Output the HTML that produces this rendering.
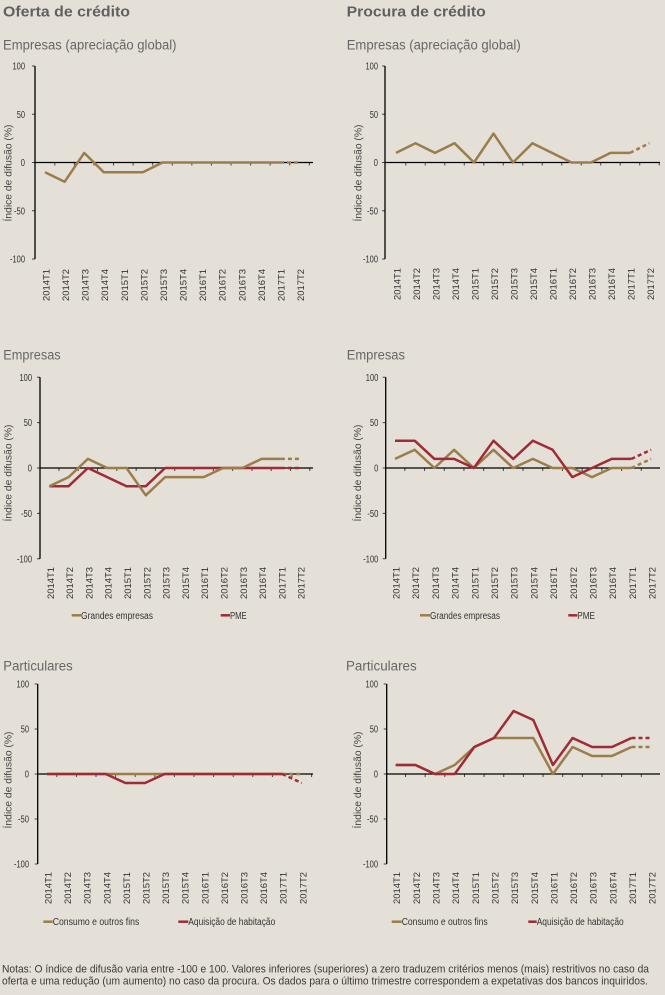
<!DOCTYPE html>
<html><head><meta charset="utf-8">
<style>
html,body{margin:0;padding:0;background:#e5e0d7;}
svg{display:block;}
text{font-family:"Liberation Sans",sans-serif;}
.tk{font-size:10px;fill:#333;}
.xl{font-size:9.5px;fill:#333;}
.yt{font-size:10px;fill:#444;}
.lg{font-size:10px;fill:#333;}
.h1{font-size:14.5px;font-weight:bold;fill:#606060;}
.h2{font-size:13.5px;fill:#666;}
.nt{font-size:11px;fill:#3a3a3a;}
.ax{stroke:#000;stroke-width:1.3;fill:none;}
.tm{stroke:#444;stroke-width:1;fill:none;}
.g{stroke:#9b7d4b;stroke-width:2.5;fill:none;stroke-linejoin:round;}
.r{stroke:#9e2b37;stroke-width:2.5;fill:none;stroke-linejoin:round;}
.d{stroke-dasharray:4 3;}
</style></head>
<body>
<svg width="665" height="995" viewBox="0 0 665 995" xmlns="http://www.w3.org/2000/svg">
<rect width="665" height="995" fill="#e5e0d7"/>

<!-- Titles -->
<text class="h1" x="3" y="16.5" textLength="127" lengthAdjust="spacingAndGlyphs">Oferta de crédito</text>
<text class="h1" x="346.7" y="16.5" textLength="139" lengthAdjust="spacingAndGlyphs">Procura de crédito</text>
<text class="h2" x="3" y="49.3" textLength="173.5" lengthAdjust="spacingAndGlyphs">Empresas (apreciação global)</text>
<text class="h2" x="346.7" y="49.3" textLength="174" lengthAdjust="spacingAndGlyphs">Empresas (apreciação global)</text>
<text class="h2" x="3.3" y="359.3" textLength="57.4" lengthAdjust="spacingAndGlyphs">Empresas</text>
<text class="h2" x="346.7" y="359.3" textLength="58.3" lengthAdjust="spacingAndGlyphs">Empresas</text>
<text class="h2" x="3.3" y="670.7" textLength="69.4" lengthAdjust="spacingAndGlyphs">Particulares</text>
<text class="h2" x="346" y="670.7" textLength="70.7" lengthAdjust="spacingAndGlyphs">Particulares</text>

<!-- ================= Chart 1 ================= -->
<g>
<text class="tk" x="25" y="69.5" text-anchor="end" textLength="12.5" lengthAdjust="spacingAndGlyphs">100</text>
<text class="tk" x="25" y="117.75" text-anchor="end" textLength="8.3" lengthAdjust="spacingAndGlyphs">50</text>
<text class="tk" x="25" y="166" text-anchor="end" textLength="4.2" lengthAdjust="spacingAndGlyphs">0</text>
<text class="tk" x="25" y="214.25" text-anchor="end" textLength="11" lengthAdjust="spacingAndGlyphs">-50</text>
<text class="tk" x="25" y="262.5" text-anchor="end" textLength="15" lengthAdjust="spacingAndGlyphs">-100</text>
<path class="tm" d="M32 66h3M32 114.25h3M32 162.5h3M32 210.75h3M32 259h3"/>
<line x1="54.3" y1="164" x2="313" y2="164" stroke="#444" stroke-width="3" stroke-dasharray="1 18.58"/>
<path class="ax" d="M35 66V259M35 162.5H313"/>
<text class="yt" transform="translate(11.6,173) rotate(-90)" text-anchor="middle" textLength="97" lengthAdjust="spacingAndGlyphs">Índice de difusão (%)</text>
<polyline class="g" points="45,172.2 64.6,181.8 84.2,152.9 103.7,172.2 123.3,172.2 142.9,172.2 162.5,162.5 182.1,162.5 201.6,162.5 221.2,162.5 240.8,162.5 260.4,162.5 280,162.5"/>
<polyline class="g d" points="280,162.5 299.5,162.5"/>
<g class="xl" text-anchor="end">
<text transform="translate(49.5,269) rotate(-90)" textLength="32" lengthAdjust="spacingAndGlyphs">2014T1</text>
<text transform="translate(69.1,269) rotate(-90)" textLength="32" lengthAdjust="spacingAndGlyphs">2014T2</text>
<text transform="translate(88.7,269) rotate(-90)" textLength="32" lengthAdjust="spacingAndGlyphs">2014T3</text>
<text transform="translate(108.2,269) rotate(-90)" textLength="32" lengthAdjust="spacingAndGlyphs">2014T4</text>
<text transform="translate(127.8,269) rotate(-90)" textLength="32" lengthAdjust="spacingAndGlyphs">2015T1</text>
<text transform="translate(147.4,269) rotate(-90)" textLength="32" lengthAdjust="spacingAndGlyphs">2015T2</text>
<text transform="translate(167,269) rotate(-90)" textLength="32" lengthAdjust="spacingAndGlyphs">2015T3</text>
<text transform="translate(186.6,269) rotate(-90)" textLength="32" lengthAdjust="spacingAndGlyphs">2015T4</text>
<text transform="translate(206.1,269) rotate(-90)" textLength="32" lengthAdjust="spacingAndGlyphs">2016T1</text>
<text transform="translate(225.7,269) rotate(-90)" textLength="32" lengthAdjust="spacingAndGlyphs">2016T2</text>
<text transform="translate(245.3,269) rotate(-90)" textLength="32" lengthAdjust="spacingAndGlyphs">2016T3</text>
<text transform="translate(264.9,269) rotate(-90)" textLength="32" lengthAdjust="spacingAndGlyphs">2016T4</text>
<text transform="translate(284.5,269) rotate(-90)" textLength="32" lengthAdjust="spacingAndGlyphs">2017T1</text>
<text transform="translate(304,269) rotate(-90)" textLength="32" lengthAdjust="spacingAndGlyphs">2017T2</text>
</g>
</g>

<!-- ================= Chart 2 ================= -->
<g>
<text class="tk" x="378" y="69.5" text-anchor="end" textLength="12.5" lengthAdjust="spacingAndGlyphs">100</text>
<text class="tk" x="378" y="117.75" text-anchor="end" textLength="8.3" lengthAdjust="spacingAndGlyphs">50</text>
<text class="tk" x="378" y="166" text-anchor="end" textLength="4.2" lengthAdjust="spacingAndGlyphs">0</text>
<text class="tk" x="378" y="214.25" text-anchor="end" textLength="11" lengthAdjust="spacingAndGlyphs">-50</text>
<text class="tk" x="378" y="262.5" text-anchor="end" textLength="15" lengthAdjust="spacingAndGlyphs">-100</text>
<path class="tm" d="M382 66h3M382 114.25h3M382 162.5h3M382 210.75h3M382 259h3"/>
<line x1="405.25" y1="164" x2="660" y2="164" stroke="#444" stroke-width="3" stroke-dasharray="1 18.5"/>
<path class="ax" d="M385 66V259M385 162.5H660"/>
<text class="yt" transform="translate(361.5,173) rotate(-90)" text-anchor="middle" textLength="97" lengthAdjust="spacingAndGlyphs">Índice de difusão (%)</text>
<polyline class="g" points="396,152.9 415.5,143.2 435,152.9 454.5,143.2 474,162.5 493.5,133.6 513,162.5 532.5,143.2 552,152.9 571.5,162.5 591,162.5 610.5,152.9 630,152.9"/>
<polyline class="g d" points="630,152.9 649.5,143.2"/>
<g class="xl" text-anchor="end">
<text transform="translate(400.5,268) rotate(-90)" textLength="32" lengthAdjust="spacingAndGlyphs">2014T1</text>
<text transform="translate(420,268) rotate(-90)" textLength="32" lengthAdjust="spacingAndGlyphs">2014T2</text>
<text transform="translate(439.5,268) rotate(-90)" textLength="32" lengthAdjust="spacingAndGlyphs">2014T3</text>
<text transform="translate(459,268) rotate(-90)" textLength="32" lengthAdjust="spacingAndGlyphs">2014T4</text>
<text transform="translate(478.5,268) rotate(-90)" textLength="32" lengthAdjust="spacingAndGlyphs">2015T1</text>
<text transform="translate(498,268) rotate(-90)" textLength="32" lengthAdjust="spacingAndGlyphs">2015T2</text>
<text transform="translate(517.5,268) rotate(-90)" textLength="32" lengthAdjust="spacingAndGlyphs">2015T3</text>
<text transform="translate(537,268) rotate(-90)" textLength="32" lengthAdjust="spacingAndGlyphs">2015T4</text>
<text transform="translate(556.5,268) rotate(-90)" textLength="32" lengthAdjust="spacingAndGlyphs">2016T1</text>
<text transform="translate(576,268) rotate(-90)" textLength="32" lengthAdjust="spacingAndGlyphs">2016T2</text>
<text transform="translate(595.5,268) rotate(-90)" textLength="32" lengthAdjust="spacingAndGlyphs">2016T3</text>
<text transform="translate(615,268) rotate(-90)" textLength="32" lengthAdjust="spacingAndGlyphs">2016T4</text>
<text transform="translate(634.5,268) rotate(-90)" textLength="32" lengthAdjust="spacingAndGlyphs">2017T1</text>
<text transform="translate(654,268) rotate(-90)" textLength="32" lengthAdjust="spacingAndGlyphs">2017T2</text>
</g>
</g>

<!-- ================= Chart 3 ================= -->
<g>
<text class="tk" x="32" y="380.8" text-anchor="end" textLength="12.5" lengthAdjust="spacingAndGlyphs">100</text>
<text class="tk" x="32" y="426.15" text-anchor="end" textLength="8.3" lengthAdjust="spacingAndGlyphs">50</text>
<text class="tk" x="32" y="471.5" text-anchor="end" textLength="4.2" lengthAdjust="spacingAndGlyphs">0</text>
<text class="tk" x="32" y="516.9" text-anchor="end" textLength="11" lengthAdjust="spacingAndGlyphs">-50</text>
<text class="tk" x="32" y="562.3" text-anchor="end" textLength="15" lengthAdjust="spacingAndGlyphs">-100</text>
<path class="tm" d="M37 377.3h3M37 422.65h3M37 468h3M37 513.4h3M37 558.8h3"/>
<line x1="58.45" y1="469.5" x2="313" y2="469.5" stroke="#444" stroke-width="3" stroke-dasharray="1 18.3"/>
<path class="ax" d="M40 377.3V558.8M40 468H313"/>
<text class="yt" transform="translate(11.6,473) rotate(-90)" text-anchor="middle" textLength="97" lengthAdjust="spacingAndGlyphs">Índice de difusão (%)</text>
<polyline class="r" points="49.3,486.2 68.6,486.2 87.9,468 107.2,477.1 126.5,486.2 145.8,486.2 165.1,468 184.4,468 203.7,468 223,468 242.3,468 261.6,468 280.9,468"/>
<polyline class="r d" points="280.9,468 300.2,468"/>
<polyline class="g" points="49.3,486.2 68.6,477.1 87.9,458.9 107.2,468 126.5,468 145.8,495.3 165.1,477.1 184.4,477.1 203.7,477.1 223,468 242.3,468 261.6,458.9 280.9,458.9"/>
<polyline class="g d" points="280.9,458.9 300.2,458.9"/>
<g class="xl" text-anchor="end">
<text transform="translate(53.8,567) rotate(-90)" textLength="32" lengthAdjust="spacingAndGlyphs">2014T1</text>
<text transform="translate(73.1,567) rotate(-90)" textLength="32" lengthAdjust="spacingAndGlyphs">2014T2</text>
<text transform="translate(92.4,567) rotate(-90)" textLength="32" lengthAdjust="spacingAndGlyphs">2014T3</text>
<text transform="translate(111.7,567) rotate(-90)" textLength="32" lengthAdjust="spacingAndGlyphs">2014T4</text>
<text transform="translate(131,567) rotate(-90)" textLength="32" lengthAdjust="spacingAndGlyphs">2015T1</text>
<text transform="translate(150.3,567) rotate(-90)" textLength="32" lengthAdjust="spacingAndGlyphs">2015T2</text>
<text transform="translate(169.6,567) rotate(-90)" textLength="32" lengthAdjust="spacingAndGlyphs">2015T3</text>
<text transform="translate(188.9,567) rotate(-90)" textLength="32" lengthAdjust="spacingAndGlyphs">2015T4</text>
<text transform="translate(208.2,567) rotate(-90)" textLength="32" lengthAdjust="spacingAndGlyphs">2016T1</text>
<text transform="translate(227.5,567) rotate(-90)" textLength="32" lengthAdjust="spacingAndGlyphs">2016T2</text>
<text transform="translate(246.8,567) rotate(-90)" textLength="32" lengthAdjust="spacingAndGlyphs">2016T3</text>
<text transform="translate(266.1,567) rotate(-90)" textLength="32" lengthAdjust="spacingAndGlyphs">2016T4</text>
<text transform="translate(285.4,567) rotate(-90)" textLength="32" lengthAdjust="spacingAndGlyphs">2017T1</text>
<text transform="translate(304.7,567) rotate(-90)" textLength="32" lengthAdjust="spacingAndGlyphs">2017T2</text>
</g>
<line class="g" x1="71.7" y1="615.3" x2="81" y2="615.3"/>
<text class="lg" x="81" y="618.8" textLength="72" lengthAdjust="spacingAndGlyphs">Grandes empresas</text>
<line class="r" x1="220.7" y1="615.3" x2="230" y2="615.3"/>
<text class="lg" x="230" y="618.8" textLength="16.7" lengthAdjust="spacingAndGlyphs">PME</text>
</g>

<!-- ================= Chart 4 ================= -->
<g>
<text class="tk" x="378.3" y="380.8" text-anchor="end" textLength="12.5" lengthAdjust="spacingAndGlyphs">100</text>
<text class="tk" x="378.3" y="426.15" text-anchor="end" textLength="8.3" lengthAdjust="spacingAndGlyphs">50</text>
<text class="tk" x="378.3" y="471.5" text-anchor="end" textLength="4.2" lengthAdjust="spacingAndGlyphs">0</text>
<text class="tk" x="378.3" y="516.9" text-anchor="end" textLength="11" lengthAdjust="spacingAndGlyphs">-50</text>
<text class="tk" x="378.3" y="562.3" text-anchor="end" textLength="15" lengthAdjust="spacingAndGlyphs">-100</text>
<path class="tm" d="M382.7 377.3h3M382.7 422.65h3M382.7 468h3M382.7 513.4h3M382.7 558.8h3"/>
<line x1="404.35" y1="469.5" x2="660" y2="469.5" stroke="#444" stroke-width="3" stroke-dasharray="1 18.7"/>
<path class="ax" d="M385.7 377.3V558.8M385.7 468H660"/>
<text class="yt" transform="translate(361,473) rotate(-90)" text-anchor="middle" textLength="97" lengthAdjust="spacingAndGlyphs">Índice de difusão (%)</text>
<polyline class="g" points="395,458.9 414.7,449.8 434.4,468 454.1,449.8 473.8,468 493.5,449.8 513.2,468 532.9,458.9 552.6,468 572.3,468 592,477.1 611.7,468 631.4,468"/>
<polyline class="g d" points="631.4,468 651.1,458.9"/>
<polyline class="r" points="395,440.7 414.7,440.7 434.4,458.9 454.1,458.9 473.8,468 493.5,440.7 513.2,458.9 532.9,440.7 552.6,449.8 572.3,477.1 592,468 611.7,458.9 631.4,458.9"/>
<polyline class="r d" points="631.4,458.9 651.1,449.8"/>
<g class="xl" text-anchor="end">
<text transform="translate(399.5,567) rotate(-90)" textLength="32" lengthAdjust="spacingAndGlyphs">2014T1</text>
<text transform="translate(419.2,567) rotate(-90)" textLength="32" lengthAdjust="spacingAndGlyphs">2014T2</text>
<text transform="translate(438.9,567) rotate(-90)" textLength="32" lengthAdjust="spacingAndGlyphs">2014T3</text>
<text transform="translate(458.6,567) rotate(-90)" textLength="32" lengthAdjust="spacingAndGlyphs">2014T4</text>
<text transform="translate(478.3,567) rotate(-90)" textLength="32" lengthAdjust="spacingAndGlyphs">2015T1</text>
<text transform="translate(498,567) rotate(-90)" textLength="32" lengthAdjust="spacingAndGlyphs">2015T2</text>
<text transform="translate(517.7,567) rotate(-90)" textLength="32" lengthAdjust="spacingAndGlyphs">2015T3</text>
<text transform="translate(537.4,567) rotate(-90)" textLength="32" lengthAdjust="spacingAndGlyphs">2015T4</text>
<text transform="translate(557.1,567) rotate(-90)" textLength="32" lengthAdjust="spacingAndGlyphs">2016T1</text>
<text transform="translate(576.8,567) rotate(-90)" textLength="32" lengthAdjust="spacingAndGlyphs">2016T2</text>
<text transform="translate(596.5,567) rotate(-90)" textLength="32" lengthAdjust="spacingAndGlyphs">2016T3</text>
<text transform="translate(616.2,567) rotate(-90)" textLength="32" lengthAdjust="spacingAndGlyphs">2016T4</text>
<text transform="translate(635.9,567) rotate(-90)" textLength="32" lengthAdjust="spacingAndGlyphs">2017T1</text>
<text transform="translate(655.6,567) rotate(-90)" textLength="32" lengthAdjust="spacingAndGlyphs">2017T2</text>
</g>
<line class="g" x1="420" y1="615.3" x2="430" y2="615.3"/>
<text class="lg" x="430" y="618.8" textLength="70" lengthAdjust="spacingAndGlyphs">Grandes empresas</text>
<line class="r" x1="568.3" y1="615.3" x2="577.3" y2="615.3"/>
<text class="lg" x="577.3" y="618.8" textLength="17.7" lengthAdjust="spacingAndGlyphs">PME</text>
</g>

<!-- ================= Chart 5 ================= -->
<g>
<text class="tk" x="29" y="687.5" text-anchor="end" textLength="12.5" lengthAdjust="spacingAndGlyphs">100</text>
<text class="tk" x="29" y="732.5" text-anchor="end" textLength="8.3" lengthAdjust="spacingAndGlyphs">50</text>
<text class="tk" x="29" y="777.5" text-anchor="end" textLength="4.2" lengthAdjust="spacingAndGlyphs">0</text>
<text class="tk" x="29" y="822.5" text-anchor="end" textLength="11" lengthAdjust="spacingAndGlyphs">-50</text>
<text class="tk" x="29" y="867.5" text-anchor="end" textLength="15" lengthAdjust="spacingAndGlyphs">-100</text>
<path class="tm" d="M34.7 684h3M34.7 729h3M34.7 774h3M34.7 819h3M34.7 864h3"/>
<line x1="56.3" y1="775.5" x2="313" y2="775.5" stroke="#444" stroke-width="3" stroke-dasharray="1 18.6"/>
<path class="ax" d="M37.7 684V864M37.7 774H313"/>
<text class="yt" transform="translate(11.6,780) rotate(-90)" text-anchor="middle" textLength="97" lengthAdjust="spacingAndGlyphs">Índice de difusão (%)</text>
<polyline class="g" points="47,774 282.2,774"/>
<polyline class="g d" points="282.2,774 301.8,774"/>
<polyline class="r" points="47,774 66.6,774 86.2,774 105.8,774 125.4,783 145,783 164.6,774 184.2,774 203.8,774 223.4,774 243,774 262.6,774 282.2,774"/>
<polyline class="r d" points="282.2,774 301.8,783"/>
<g class="xl" text-anchor="end">
<text transform="translate(51.5,872) rotate(-90)" textLength="32" lengthAdjust="spacingAndGlyphs">2014T1</text>
<text transform="translate(71.1,872) rotate(-90)" textLength="32" lengthAdjust="spacingAndGlyphs">2014T2</text>
<text transform="translate(90.7,872) rotate(-90)" textLength="32" lengthAdjust="spacingAndGlyphs">2014T3</text>
<text transform="translate(110.3,872) rotate(-90)" textLength="32" lengthAdjust="spacingAndGlyphs">2014T4</text>
<text transform="translate(129.9,872) rotate(-90)" textLength="32" lengthAdjust="spacingAndGlyphs">2015T1</text>
<text transform="translate(149.5,872) rotate(-90)" textLength="32" lengthAdjust="spacingAndGlyphs">2015T2</text>
<text transform="translate(169.1,872) rotate(-90)" textLength="32" lengthAdjust="spacingAndGlyphs">2015T3</text>
<text transform="translate(188.7,872) rotate(-90)" textLength="32" lengthAdjust="spacingAndGlyphs">2015T4</text>
<text transform="translate(208.3,872) rotate(-90)" textLength="32" lengthAdjust="spacingAndGlyphs">2016T1</text>
<text transform="translate(227.9,872) rotate(-90)" textLength="32" lengthAdjust="spacingAndGlyphs">2016T2</text>
<text transform="translate(247.5,872) rotate(-90)" textLength="32" lengthAdjust="spacingAndGlyphs">2016T3</text>
<text transform="translate(267.1,872) rotate(-90)" textLength="32" lengthAdjust="spacingAndGlyphs">2016T4</text>
<text transform="translate(286.7,872) rotate(-90)" textLength="32" lengthAdjust="spacingAndGlyphs">2017T1</text>
<text transform="translate(306.3,872) rotate(-90)" textLength="32" lengthAdjust="spacingAndGlyphs">2017T2</text>
</g>
<line class="g" x1="43.3" y1="921.7" x2="52.7" y2="921.7"/>
<text class="lg" x="52.7" y="925.2" textLength="86.6" lengthAdjust="spacingAndGlyphs">Consumo e outros fins</text>
<line class="r" x1="178.3" y1="921.7" x2="188.3" y2="921.7"/>
<text class="lg" x="188.3" y="925.2" textLength="87" lengthAdjust="spacingAndGlyphs">Aquisição de habitação</text>
</g>

<!-- ================= Chart 6 ================= -->
<g>
<text class="tk" x="378" y="687.5" text-anchor="end" textLength="12.5" lengthAdjust="spacingAndGlyphs">100</text>
<text class="tk" x="378" y="732.5" text-anchor="end" textLength="8.3" lengthAdjust="spacingAndGlyphs">50</text>
<text class="tk" x="378" y="777.5" text-anchor="end" textLength="4.2" lengthAdjust="spacingAndGlyphs">0</text>
<text class="tk" x="378" y="822.5" text-anchor="end" textLength="11" lengthAdjust="spacingAndGlyphs">-50</text>
<text class="tk" x="378" y="867.5" text-anchor="end" textLength="15" lengthAdjust="spacingAndGlyphs">-100</text>
<path class="tm" d="M383.7 684h3M383.7 729h3M383.7 774h3M383.7 819h3M383.7 864h3"/>
<line x1="405" y1="775.5" x2="660" y2="775.5" stroke="#444" stroke-width="3" stroke-dasharray="1 18.65"/>
<path class="ax" d="M386.7 684V864M386.7 774H660"/>
<text class="yt" transform="translate(361,780) rotate(-90)" text-anchor="middle" textLength="97" lengthAdjust="spacingAndGlyphs">Índice de difusão (%)</text>
<polyline class="g" points="395.7,765 415.4,765 435,774 454.7,765 474.3,747 494,738 513.6,738 533.3,738 552.9,774 572.6,747 592.2,756 611.9,756 631.5,747"/>
<polyline class="g d" points="631.5,747 651.2,747"/>
<polyline class="r" points="395.7,765 415.4,765 435,774 454.7,774 474.3,747 494,738 513.6,711 533.3,720 552.9,765 572.6,738 592.2,747 611.9,747 631.5,738"/>
<polyline class="r d" points="631.5,738 651.2,738"/>
<g class="xl" text-anchor="end">
<text transform="translate(400.2,872) rotate(-90)" textLength="32" lengthAdjust="spacingAndGlyphs">2014T1</text>
<text transform="translate(419.9,872) rotate(-90)" textLength="32" lengthAdjust="spacingAndGlyphs">2014T2</text>
<text transform="translate(439.5,872) rotate(-90)" textLength="32" lengthAdjust="spacingAndGlyphs">2014T3</text>
<text transform="translate(459.2,872) rotate(-90)" textLength="32" lengthAdjust="spacingAndGlyphs">2014T4</text>
<text transform="translate(478.8,872) rotate(-90)" textLength="32" lengthAdjust="spacingAndGlyphs">2015T1</text>
<text transform="translate(498.5,872) rotate(-90)" textLength="32" lengthAdjust="spacingAndGlyphs">2015T2</text>
<text transform="translate(518.1,872) rotate(-90)" textLength="32" lengthAdjust="spacingAndGlyphs">2015T3</text>
<text transform="translate(537.8,872) rotate(-90)" textLength="32" lengthAdjust="spacingAndGlyphs">2015T4</text>
<text transform="translate(557.4,872) rotate(-90)" textLength="32" lengthAdjust="spacingAndGlyphs">2016T1</text>
<text transform="translate(577.1,872) rotate(-90)" textLength="32" lengthAdjust="spacingAndGlyphs">2016T2</text>
<text transform="translate(596.7,872) rotate(-90)" textLength="32" lengthAdjust="spacingAndGlyphs">2016T3</text>
<text transform="translate(616.4,872) rotate(-90)" textLength="32" lengthAdjust="spacingAndGlyphs">2016T4</text>
<text transform="translate(636,872) rotate(-90)" textLength="32" lengthAdjust="spacingAndGlyphs">2017T1</text>
<text transform="translate(655.7,872) rotate(-90)" textLength="32" lengthAdjust="spacingAndGlyphs">2017T2</text>
</g>
<line class="g" x1="391.7" y1="921.7" x2="401.7" y2="921.7"/>
<text class="lg" x="401.7" y="925.2" textLength="86" lengthAdjust="spacingAndGlyphs">Consumo e outros fins</text>
<line class="r" x1="528.3" y1="921.7" x2="536.7" y2="921.7"/>
<text class="lg" x="536.7" y="925.2" textLength="87" lengthAdjust="spacingAndGlyphs">Aquisição de habitação</text>
</g>

<!-- Notes -->
<text class="nt" x="2" y="972.3" textLength="647" lengthAdjust="spacingAndGlyphs">Notas: O índice de difusão varia entre -100 e 100. Valores inferiores (superiores) a zero traduzem critérios menos (mais) restritivos no caso da</text>
<text class="nt" x="2" y="984.4" textLength="646" lengthAdjust="spacingAndGlyphs">oferta e uma redução (um aumento) no caso da procura. Os dados para o último trimestre correspondem a expetativas dos bancos inquiridos.</text>
</svg>
</body></html>
